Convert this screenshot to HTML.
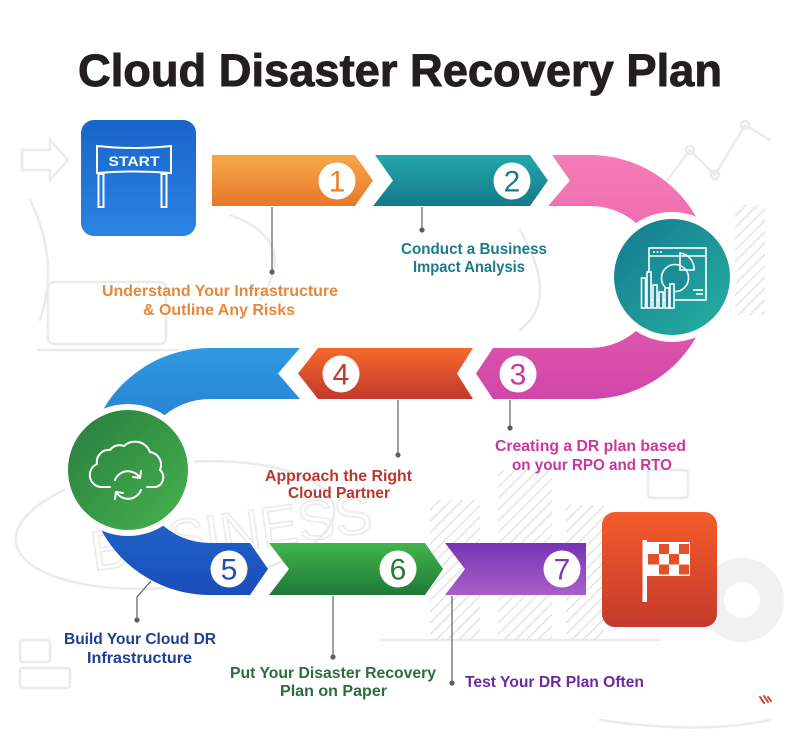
<!DOCTYPE html>
<html>
<head>
<meta charset="utf-8">
<style>
  html,body{margin:0;padding:0;background:#fff;}
  svg{display:block;}
  text{font-family:"Liberation Sans",Arial,sans-serif;}
</style>
</head>
<body>
<svg width="800" height="749" viewBox="0 0 800 749" xmlns="http://www.w3.org/2000/svg">
  <defs>
    <linearGradient id="gOr1" x1="0" y1="0" x2="0" y2="1">
      <stop offset="0" stop-color="#f7a84a"/><stop offset="1" stop-color="#e8772a"/>
    </linearGradient>
    <linearGradient id="gTeal" x1="0" y1="0" x2="0" y2="1">
      <stop offset="0" stop-color="#22a8ab"/><stop offset="1" stop-color="#147a8b"/>
    </linearGradient>
    <linearGradient id="gPink" x1="0" y1="0" x2="0" y2="1">
      <stop offset="0" stop-color="#f57cb6"/><stop offset="0.5" stop-color="#ea62ae"/><stop offset="1" stop-color="#cf46a9"/>
    </linearGradient>
    <linearGradient id="gOr4" x1="0" y1="0" x2="0" y2="1">
      <stop offset="0" stop-color="#f6682a"/><stop offset="1" stop-color="#c1392e"/>
    </linearGradient>
    <linearGradient id="gBlue" x1="0" y1="0" x2="0" y2="1">
      <stop offset="0" stop-color="#2e9ae0"/><stop offset="0.5" stop-color="#2273d0"/><stop offset="1" stop-color="#1a4dbb"/>
    </linearGradient>
    <linearGradient id="gGreen" x1="0" y1="0" x2="0" y2="1">
      <stop offset="0" stop-color="#42b54d"/><stop offset="1" stop-color="#1f7936"/>
    </linearGradient>
    <linearGradient id="gPurple" x1="0" y1="0" x2="0" y2="1">
      <stop offset="0" stop-color="#7733b3"/><stop offset="1" stop-color="#a85fca"/>
    </linearGradient>
    <linearGradient id="gTealC" x1="0" y1="0" x2="1" y2="1">
      <stop offset="0" stop-color="#127a8e"/><stop offset="1" stop-color="#27b0a2"/>
    </linearGradient>
    <linearGradient id="gGreenC" x1="0" y1="0" x2="1" y2="1">
      <stop offset="0" stop-color="#277c3e"/><stop offset="1" stop-color="#47b34e"/>
    </linearGradient>
    <linearGradient id="gStart" x1="0" y1="0" x2="0" y2="1">
      <stop offset="0" stop-color="#1a64cb"/><stop offset="1" stop-color="#2a84e3"/>
    </linearGradient>
    <linearGradient id="gFlag" x1="0" y1="0" x2="0" y2="1">
      <stop offset="0" stop-color="#f45b28"/><stop offset="1" stop-color="#c43a2d"/>
    </linearGradient>
    <pattern id="hatch" width="8" height="8" patternUnits="userSpaceOnUse" patternTransform="rotate(45)">
      <line x1="0" y1="0" x2="0" y2="8" stroke="#e4e4e4" stroke-width="3"/>
    </pattern>
  </defs>

  <!-- background sketches -->
  <g fill="none" stroke="#ebebeb" stroke-width="2.5" stroke-linecap="round">
    <path d="M22,150 L50,150 L50,140 L68,160 L50,180 L50,170 L22,170 Z"/>
    <path d="M30,200 Q60,260 40,320"/>
    <rect x="48" y="282" width="118" height="62" rx="6"/>
    <path d="M38,350 H178"/>
    <path d="M660,190 L690,150 L715,175 L745,125 L770,140"/>
    <circle cx="690" cy="150" r="4"/><circle cx="715" cy="175" r="4"/><circle cx="745" cy="125" r="4"/>
    <ellipse cx="175" cy="525" rx="160" ry="62" transform="rotate(-6 175 525)"/>
    <path d="M230,215 Q300,240 260,300"/>
    <path d="M520,230 Q560,300 520,330"/>
    <path d="M380,640 H660"/>
    <rect x="648" y="470" width="40" height="28" rx="3"/>
    <path d="M600,720 Q700,735 770,720"/>
    <rect x="20" y="640" width="30" height="22" rx="3"/>
    <rect x="20" y="668" width="50" height="20" rx="3"/>
  </g>
  <text x="90" y="560" font-size="56" fill="none" stroke="#ececec" stroke-width="1.8" transform="rotate(-8 170 540)">BUSINESS</text>
  <rect x="430" y="500" width="50" height="140" fill="url(#hatch)"/>
  <rect x="498" y="470" width="54" height="170" fill="url(#hatch)"/>
  <rect x="566" y="505" width="38" height="135" fill="url(#hatch)"/>
  <circle cx="742" cy="600" r="42" fill="#f1f1f1"/>
  <circle cx="742" cy="600" r="18" fill="#fff"/>
  <rect x="735" y="205" width="30" height="110" fill="url(#hatch)"/>

  <!-- Title -->
  <text x="400" y="86" font-size="45" font-weight="bold" fill="#231f20" stroke="#231f20" stroke-width="0.9" text-anchor="middle" textLength="644" lengthAdjust="spacingAndGlyphs">Cloud Disaster Recovery Plan</text>

  <!-- START box -->
  <rect x="81" y="120" width="115" height="116" rx="13" fill="url(#gStart)"/>
  <g fill="none" stroke="#fff" stroke-width="2">
    <path d="M97,146 Q134,150 171,146 L171,173 Q134,170 97,173 Z"/>
    <rect x="98.5" y="174" width="5" height="33"/>
    <rect x="161.5" y="174" width="5" height="33"/>
  </g>
  <text x="134" y="166" font-size="14" font-weight="bold" fill="#fff" text-anchor="middle" textLength="51" lengthAdjust="spacingAndGlyphs">START</text>

  <!-- Row 1 -->
  <polygon points="212,155 355,155 373,180.5 355,206 212,206" fill="url(#gOr1)"/>
  <polygon points="375,155 530,155 548,180.5 530,206 373,206 393,180.5" fill="url(#gTeal)"/>
  <!-- Pink curve -->
  <path d="M552,155 L590,155 A122,122 0 0 1 590,399 L493,399 L476,373.5 L493,348 L590,348 A71,71 0 0 0 590,206 L548,206 L570,180.5 Z" fill="url(#gPink)"/>
  <!-- teal circle -->
  <circle cx="672" cy="277" r="65" fill="#fff"/>
  <circle cx="672" cy="277" r="58" fill="url(#gTealC)"/>
  <g fill="none" stroke="#fff" stroke-width="1.6">
    <rect x="649" y="248" width="57" height="52"/>
    <line x1="649" y1="256" x2="706" y2="256"/>
    <circle cx="675" cy="278" r="13.5" fill="#1a8f98"/>
    <path d="M680,253 A16,16 0 0 1 694,270 L680,270 Z"/>
    <line x1="693" y1="290" x2="703" y2="290"/>
    <line x1="696" y1="294" x2="703" y2="294"/>
    <rect x="641.5" y="278" width="4" height="30" fill="#198a97"/>
    <rect x="647" y="272" width="4" height="36" fill="#198a97"/>
    <rect x="653" y="285" width="4" height="23" fill="#198a97"/>
    <rect x="659" y="292" width="4" height="16" fill="#198a97"/>
    <rect x="665" y="288" width="4" height="20" fill="#198a97"/>
    <rect x="670" y="284" width="4" height="24" fill="#198a97"/>
  </g>
  <g fill="#fff"><circle cx="654" cy="252" r="1"/><circle cx="657.5" cy="252" r="1"/><circle cx="661" cy="252" r="1"/></g>

  <!-- Row 2 -->
  <polygon points="318,348 473,348 457,373.5 473,399 318,399 298,373.5" fill="url(#gOr4)"/>
  <!-- Blue curve -->
  <path d="M300,348 L210,348 A123.5,123.5 0 0 0 210,595 L250,595 L268,569 L250,543 L210,543 A72,72 0 0 1 210,399 L300,399 L278,373.5 Z" fill="url(#gBlue)"/>
  <!-- green circle -->
  <circle cx="128" cy="470" r="66" fill="#fff"/>
  <circle cx="128" cy="470" r="60" fill="url(#gGreenC)"/>
  <g fill="none" stroke="#fff" stroke-width="2" stroke-linecap="round">
    <path d="M110,487 H102 A12,12 0 0 1 97,464 A12,12 0 0 1 110,450 A12,12 0 0 1 124,446 A16,16 0 0 1 150,452 A13,13 0 0 1 160,470 A10,10 0 0 1 156,487 H147"/>
    <path d="M115,480 A14,14 0 0 1 140,478"/>
    <path d="M141,490 A14,14 0 0 1 116,492"/>
    <path d="M140,478 L141,471 M140,478 L133,477"/>
    <path d="M116,492 L115,499 M116,492 L123,493"/>
  </g>

  <!-- Row 3 -->
  <polygon points="269,543 425,543 443,569 425,595 269,595 289,569" fill="url(#gGreen)"/>
  <polygon points="445,543 586,543 586,595 445,595 465,569" fill="url(#gPurple)"/>

  <!-- Flag box -->
  <rect x="602" y="512" width="115" height="115" rx="13" fill="url(#gFlag)"/>
  <rect x="642.5" y="540" width="4.5" height="62" fill="#fff"/>
  <rect x="646" y="542" width="44" height="34" fill="#fff"/>
  <g fill="#e4502a">
    <rect x="659" y="544" width="10" height="10"/><rect x="679" y="544" width="10" height="10"/>
    <rect x="648" y="554" width="11" height="10.5"/><rect x="669" y="554" width="10" height="10.5"/>
    <rect x="659" y="564.5" width="10" height="10"/><rect x="679" y="564.5" width="10" height="10"/>
  </g>

  <!-- number circles -->
  <g fill="#fff">
    <circle cx="337" cy="181" r="18.5"/>
    <circle cx="512" cy="181" r="18.5"/>
    <circle cx="518" cy="374" r="18.5"/>
    <circle cx="341" cy="374" r="18.5"/>
    <circle cx="229" cy="569" r="18.5"/>
    <circle cx="398" cy="569" r="18.5"/>
    <circle cx="562" cy="569" r="18.5"/>
  </g>
  <g font-size="30" text-anchor="middle">
    <text x="337" y="191.5" fill="#e8842c">1</text>
    <text x="512" y="191.5" fill="#1d7a8b">2</text>
    <text x="518" y="384.5" fill="#c83a9f">3</text>
    <text x="341" y="384.5" fill="#c0392b">4</text>
    <text x="229" y="579.5" fill="#1f4fb3">5</text>
    <text x="398" y="579.5" fill="#267a38">6</text>
    <text x="562" y="579.5" fill="#7a3ab2">7</text>
  </g>

  <!-- connectors -->
  <g stroke="#5a5f66" stroke-width="1.2" fill="none">
    <line x1="272" y1="207" x2="272" y2="272"/>
    <line x1="422" y1="207" x2="422" y2="230"/>
    <line x1="510" y1="400" x2="510" y2="428"/>
    <line x1="398" y1="400" x2="398" y2="455"/>
    <polyline points="151,581 137,597 137,620"/>
    <line x1="333" y1="596" x2="333" y2="657"/>
    <line x1="452" y1="596" x2="452" y2="683"/>
  </g>
  <g fill="#5a5f66">
    <circle cx="272" cy="272" r="2.6"/>
    <circle cx="422" cy="230" r="2.6"/>
    <circle cx="510" cy="428" r="2.6"/>
    <circle cx="398" cy="455" r="2.6"/>
    <circle cx="137" cy="620" r="2.6"/>
    <circle cx="333" cy="657" r="2.6"/>
    <circle cx="452" cy="683" r="2.6"/>
  </g>

  <!-- labels -->
  <g font-size="15.5" font-weight="bold" text-anchor="middle">
    <text x="220" y="296" fill="#e6873b" textLength="236" lengthAdjust="spacingAndGlyphs">Understand Your Infrastructure</text>
    <text x="219" y="315" fill="#e6873b" textLength="152" lengthAdjust="spacingAndGlyphs">&amp; Outline Any Risks</text>

    <text x="474" y="254" fill="#1d7a8d" textLength="146" lengthAdjust="spacingAndGlyphs">Conduct a Business</text>
    <text x="469" y="272" fill="#1d7a8d" textLength="112" lengthAdjust="spacingAndGlyphs">Impact Analysis</text>

    <text x="590.5" y="451" fill="#c8379f" textLength="191" lengthAdjust="spacingAndGlyphs">Creating a DR plan based</text>
    <text x="592" y="470" fill="#c8379f" textLength="160" lengthAdjust="spacingAndGlyphs">on your RPO and RTO</text>

    <text x="338.5" y="481" fill="#b9362f" textLength="147" lengthAdjust="spacingAndGlyphs">Approach the Right</text>
    <text x="339" y="498" fill="#b9362f" textLength="102" lengthAdjust="spacingAndGlyphs">Cloud Partner</text>

    <text x="140" y="644" fill="#1f3f95" textLength="152" lengthAdjust="spacingAndGlyphs">Build Your Cloud DR</text>
    <text x="139.5" y="663" fill="#1f3f95" textLength="105" lengthAdjust="spacingAndGlyphs">Infrastructure</text>

    <text x="333" y="678" fill="#2c6d3c" textLength="206" lengthAdjust="spacingAndGlyphs">Put Your Disaster Recovery</text>
    <text x="333.5" y="696" fill="#2c6d3c" textLength="107" lengthAdjust="spacingAndGlyphs">Plan on Paper</text>

    <text x="554.5" y="687" fill="#6b2a9e" textLength="179" lengthAdjust="spacingAndGlyphs">Test Your DR Plan Often</text>
  </g>

  <!-- small logo mark bottom-right -->
  <g stroke="#d9452b" stroke-width="2" stroke-linecap="round">
    <line x1="760" y1="697" x2="764" y2="703"/>
    <line x1="764" y1="696" x2="768" y2="702"/>
    <line x1="768" y1="697" x2="771" y2="701"/>
  </g>
</svg>
</body>
</html>
